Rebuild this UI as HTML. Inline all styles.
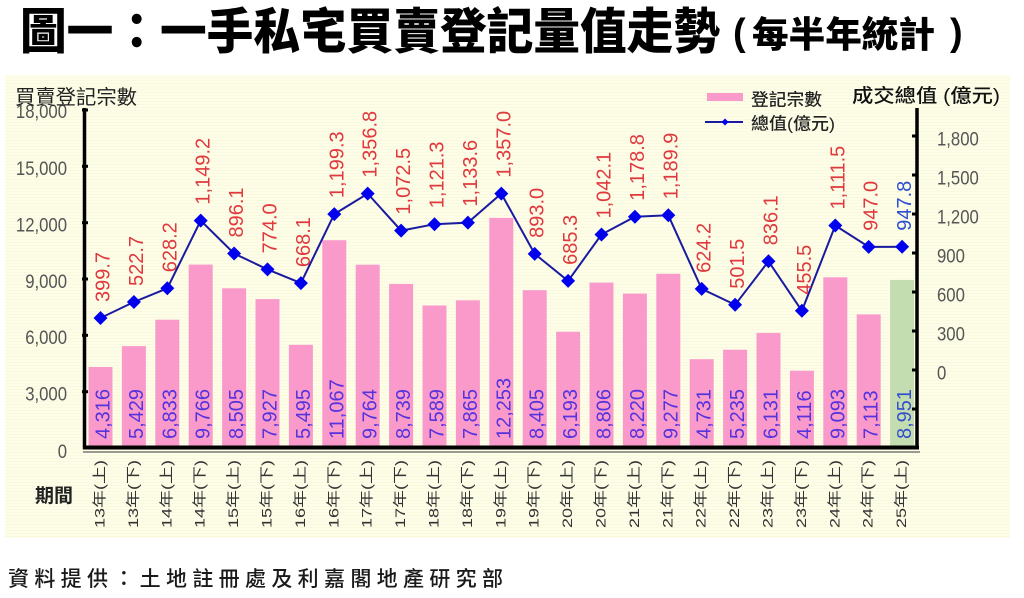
<!DOCTYPE html>
<html>
<head>
<meta charset="utf-8">
<style>
html,body{margin:0;padding:0;background:#fff;}
svg{display:block;}
.cjk{font-family:"Liberation Sans","Noto Sans CJK TC","Noto Sans CJK SC",sans-serif;}
.num{font-family:"Liberation Sans",sans-serif;}
</style>
</head>
<body>
<svg width="1024" height="598" viewBox="0 0 1024 598" xmlns="http://www.w3.org/2000/svg">
<defs>
<pattern id="stripe" width="4" height="3" patternUnits="userSpaceOnUse">
<rect width="4" height="3" fill="#fdfde8"/>
<rect y="2" width="4" height="1" fill="#f9f9e0"/>
</pattern>
</defs>
<rect width="1024" height="598" fill="#ffffff"/>

<!-- Title -->
<text class="cjk" x="20" y="48.5" font-size="49" font-weight="900" fill="#000" textLength="700" lengthAdjust="spacingAndGlyphs">圖一：一手私宅買賣登記量值走勢</text>
<text class="num" x="733" y="45" font-size="38" font-weight="bold" fill="#000">(</text>
<text class="cjk" x="752" y="47" font-size="36" font-weight="900" fill="#000" textLength="183" lengthAdjust="spacingAndGlyphs">每半年統計</text>
<text class="num" x="950" y="45" font-size="38" font-weight="bold" fill="#000">)</text>

<!-- Chart panel -->
<rect x="5" y="75" width="1005" height="463" fill="url(#stripe)"/>

<!-- Bars -->
<g fill="#fa9acb">
<rect x="88.5" y="367.0" width="24" height="79.0"/>
<rect x="121.9" y="346.1" width="24" height="99.9"/>
<rect x="155.3" y="319.7" width="24" height="126.3"/>
<rect x="188.7" y="264.6" width="24" height="181.4"/>
<rect x="222.1" y="288.3" width="24" height="157.7"/>
<rect x="255.5" y="299.1" width="24" height="146.9"/>
<rect x="288.9" y="344.8" width="24" height="101.2"/>
<rect x="322.3" y="240.2" width="24" height="205.8"/>
<rect x="355.7" y="264.7" width="24" height="181.3"/>
<rect x="389.1" y="283.9" width="24" height="162.1"/>
<rect x="422.5" y="305.5" width="24" height="140.5"/>
<rect x="455.9" y="300.3" width="24" height="145.7"/>
<rect x="489.3" y="217.9" width="24" height="228.1"/>
<rect x="522.7" y="290.2" width="24" height="155.8"/>
<rect x="556.1" y="331.7" width="24" height="114.3"/>
<rect x="589.5" y="282.6" width="24" height="163.4"/>
<rect x="622.9" y="293.6" width="24" height="152.4"/>
<rect x="656.3" y="273.8" width="24" height="172.2"/>
<rect x="689.7" y="359.2" width="24" height="86.8"/>
<rect x="723.1" y="349.7" width="24" height="96.3"/>
<rect x="756.5" y="332.9" width="24" height="113.1"/>
<rect x="789.9" y="370.7" width="24" height="75.3"/>
<rect x="823.3" y="277.3" width="24" height="168.7"/>
<rect x="856.7" y="314.4" width="24" height="131.6"/>
</g>
<rect x="890.1" y="279.9" width="24" height="166.1" fill="#c4ddb0"/>

<!-- Bar labels -->
<g class="num" font-size="20" fill="#5533dd">
<text transform="translate(109.5,439) rotate(-90)">4,316</text>
<text transform="translate(142.9,439) rotate(-90)">5,429</text>
<text transform="translate(176.3,439) rotate(-90)">6,833</text>
<text transform="translate(209.7,439) rotate(-90)">9,766</text>
<text transform="translate(243.1,439) rotate(-90)">8,505</text>
<text transform="translate(276.5,439) rotate(-90)">7,927</text>
<text transform="translate(309.9,439) rotate(-90)">5,495</text>
<text transform="translate(343.3,439) rotate(-90)">11,067</text>
<text transform="translate(376.7,439) rotate(-90)">9,764</text>
<text transform="translate(410.1,439) rotate(-90)">8,739</text>
<text transform="translate(443.5,439) rotate(-90)">7,589</text>
<text transform="translate(476.9,439) rotate(-90)">7,865</text>
<text transform="translate(510.3,439) rotate(-90)">12,253</text>
<text transform="translate(543.7,439) rotate(-90)">8,405</text>
<text transform="translate(577.1,439) rotate(-90)">6,193</text>
<text transform="translate(610.5,439) rotate(-90)">8,806</text>
<text transform="translate(643.9,439) rotate(-90)">8,220</text>
<text transform="translate(677.3,439) rotate(-90)">9,277</text>
<text transform="translate(710.7,439) rotate(-90)">4,731</text>
<text transform="translate(744.1,439) rotate(-90)">5,235</text>
<text transform="translate(777.5,439) rotate(-90)">6,131</text>
<text transform="translate(810.9,439) rotate(-90)">4,116</text>
<text transform="translate(844.3,439) rotate(-90)">9,093</text>
<text transform="translate(877.7,439) rotate(-90)">7,113</text>
<text transform="translate(911.1,439) rotate(-90)" fill="#3350cc">8,951</text>
</g>

<!-- Line -->
<polyline fill="none" stroke="#1a1aa0" stroke-width="2" points="100.5,318.0 133.9,302.0 167.3,288.3 200.7,220.6 234.1,253.5 267.5,269.4 300.9,283.1 334.3,214.1 367.7,193.6 401.1,230.6 434.5,224.2 467.9,222.6 501.3,193.6 534.7,253.9 568.1,280.9 601.5,234.5 634.9,216.8 668.3,215.3 701.7,288.9 735.1,304.8 768.5,261.3 801.9,310.8 835.3,225.5 868.7,246.9 902.1,246.8"/>
<path fill="#0000ee" d="M100.5,311.0l7,7-7,7-7,-7z M133.9,295.0l7,7-7,7-7,-7z M167.3,281.3l7,7-7,7-7,-7z M200.7,213.6l7,7-7,7-7,-7z M234.1,246.5l7,7-7,7-7,-7z M267.5,262.4l7,7-7,7-7,-7z M300.9,276.1l7,7-7,7-7,-7z M334.3,207.1l7,7-7,7-7,-7z M367.7,186.6l7,7-7,7-7,-7z M401.1,223.6l7,7-7,7-7,-7z M434.5,217.2l7,7-7,7-7,-7z M467.9,215.6l7,7-7,7-7,-7z M501.3,186.6l7,7-7,7-7,-7z M534.7,246.9l7,7-7,7-7,-7z M568.1,273.9l7,7-7,7-7,-7z M601.5,227.5l7,7-7,7-7,-7z M634.9,209.8l7,7-7,7-7,-7z M668.3,208.3l7,7-7,7-7,-7z M701.7,281.9l7,7-7,7-7,-7z M735.1,297.8l7,7-7,7-7,-7z M768.5,254.3l7,7-7,7-7,-7z M801.9,303.8l7,7-7,7-7,-7z M835.3,218.5l7,7-7,7-7,-7z M868.7,239.9l7,7-7,7-7,-7z M902.1,239.8l7,7-7,7-7,-7z"/>

<!-- Line labels -->
<g class="num" font-size="20" fill="#e0393e">
<text transform="translate(109.5,302.0) rotate(-90)">399.7</text>
<text transform="translate(142.9,286.0) rotate(-90)">522.7</text>
<text transform="translate(176.3,272.3) rotate(-90)">628.2</text>
<text transform="translate(209.7,204.6) rotate(-90)">1,149.2</text>
<text transform="translate(243.1,237.5) rotate(-90)">896.1</text>
<text transform="translate(276.5,253.4) rotate(-90)">774.0</text>
<text transform="translate(309.9,267.1) rotate(-90)">668.1</text>
<text transform="translate(343.3,198.1) rotate(-90)">1,199.3</text>
<text transform="translate(376.7,177.6) rotate(-90)">1,356.8</text>
<text transform="translate(410.1,214.6) rotate(-90)">1,072.5</text>
<text transform="translate(443.5,208.2) rotate(-90)">1,121.3</text>
<text transform="translate(476.9,206.6) rotate(-90)">1,133.6</text>
<text transform="translate(510.3,177.6) rotate(-90)">1,357.0</text>
<text transform="translate(543.7,237.9) rotate(-90)">893.0</text>
<text transform="translate(577.1,264.9) rotate(-90)">685.3</text>
<text transform="translate(610.5,218.5) rotate(-90)">1,042.1</text>
<text transform="translate(643.9,200.8) rotate(-90)">1,178.8</text>
<text transform="translate(677.3,199.3) rotate(-90)">1,189.9</text>
<text transform="translate(710.7,272.9) rotate(-90)">624.2</text>
<text transform="translate(744.1,288.8) rotate(-90)">501.5</text>
<text transform="translate(777.5,245.3) rotate(-90)">836.1</text>
<text transform="translate(810.9,294.8) rotate(-90)">455.5</text>
<text transform="translate(844.3,209.5) rotate(-90)">1,111.5</text>
<text transform="translate(877.7,230.9) rotate(-90)">947.0</text>
<text transform="translate(911.1,230.8) rotate(-90)" fill="#2d4fd0">947.8</text>
</g>

<!-- Axes -->
<line x1="84.5" y1="108" x2="84.5" y2="449" stroke="#000" stroke-width="3.5"/>
<line x1="917" y1="108" x2="917" y2="449" stroke="#000" stroke-width="3.5"/>
<line x1="83" y1="452" x2="920" y2="452" stroke="#9a9a90" stroke-width="2"/>
<line x1="83" y1="447.5" x2="919" y2="447.5" stroke="#000" stroke-width="4"/>
<g stroke="#000" stroke-width="3">
<line x1="82" y1="110" x2="88" y2="110"/>
<line x1="82" y1="166.3" x2="88" y2="166.3"/>
<line x1="82" y1="222.7" x2="88" y2="222.7"/>
<line x1="82" y1="279" x2="88" y2="279"/>
<line x1="82" y1="335.3" x2="88" y2="335.3"/>
<line x1="82" y1="391.7" x2="88" y2="391.7"/>
<line x1="912" y1="136" x2="918" y2="136"/>
<line x1="912" y1="175" x2="918" y2="175"/>
<line x1="912" y1="214" x2="918" y2="214"/>
<line x1="912" y1="253" x2="918" y2="253"/>
<line x1="912" y1="292" x2="918" y2="292"/>
<line x1="912" y1="331" x2="918" y2="331"/>
<line x1="912" y1="370" x2="918" y2="370"/>
<line x1="912" y1="409" x2="918" y2="409"/>
</g>

<!-- Left tick labels -->
<g class="num" font-size="19" fill="#555" text-anchor="end">
<text transform="translate(67,118) scale(0.88,1)">18,000</text>
<text transform="translate(67,175) scale(0.88,1)">15,000</text>
<text transform="translate(67,231.5) scale(0.88,1)">12,000</text>
<text transform="translate(67,288) scale(0.88,1)">9,000</text>
<text transform="translate(67,344) scale(0.88,1)">6,000</text>
<text transform="translate(67,400.5) scale(0.88,1)">3,000</text>
<text transform="translate(67,458) scale(0.88,1)">0</text>
</g>
<!-- Right tick labels -->
<g class="num" font-size="19" fill="#555">
<text transform="translate(937,145.5) scale(0.88,1)">1,800</text>
<text transform="translate(937,184.5) scale(0.88,1)">1,500</text>
<text transform="translate(937,223.5) scale(0.88,1)">1,200</text>
<text transform="translate(937,262.5) scale(0.88,1)">900</text>
<text transform="translate(937,301.5) scale(0.88,1)">600</text>
<text transform="translate(937,340.5) scale(0.88,1)">300</text>
<text transform="translate(937,379.5) scale(0.88,1)">0</text>
</g>

<!-- Axis titles -->
<text class="cjk" x="15" y="104" font-size="20" fill="#222" textLength="122" lengthAdjust="spacingAndGlyphs">買賣登記宗數</text>
<text class="cjk" x="852" y="102" font-size="19" fill="#111" font-weight="500" textLength="148" lengthAdjust="spacingAndGlyphs">成交總值 (億元)</text>

<!-- Legend -->
<rect x="707" y="93" width="36" height="8" fill="#fa9acb"/>
<text class="cjk" x="751" y="105.5" font-size="17" fill="#222" font-weight="500" textLength="71" lengthAdjust="spacingAndGlyphs">登記宗數</text>
<line x1="705" y1="122" x2="743" y2="122" stroke="#1a1aa0" stroke-width="2"/>
<path d="M725,118.5l3.5,3.5-3.5,3.5-3.5,-3.5z" fill="#0000ee"/>
<text class="cjk" x="751" y="129.5" font-size="17" fill="#222" font-weight="500" textLength="84" lengthAdjust="spacingAndGlyphs">總值(億元)</text>

<!-- X labels -->
<text class="cjk" x="35" y="502" font-size="19" font-weight="bold" fill="#222" textLength="38" lengthAdjust="spacingAndGlyphs">期間</text>
<g class="cjk" font-size="14" fill="#333">
<text transform="translate(104.5,528) rotate(-90)" textLength="68" lengthAdjust="spacingAndGlyphs">13年(上)</text>
<text transform="translate(137.9,528) rotate(-90)" textLength="68" lengthAdjust="spacingAndGlyphs">13年(下)</text>
<text transform="translate(171.3,528) rotate(-90)" textLength="68" lengthAdjust="spacingAndGlyphs">14年(上)</text>
<text transform="translate(204.7,528) rotate(-90)" textLength="68" lengthAdjust="spacingAndGlyphs">14年(下)</text>
<text transform="translate(238.1,528) rotate(-90)" textLength="68" lengthAdjust="spacingAndGlyphs">15年(上)</text>
<text transform="translate(271.5,528) rotate(-90)" textLength="68" lengthAdjust="spacingAndGlyphs">15年(下)</text>
<text transform="translate(304.9,528) rotate(-90)" textLength="68" lengthAdjust="spacingAndGlyphs">16年(上)</text>
<text transform="translate(338.3,528) rotate(-90)" textLength="68" lengthAdjust="spacingAndGlyphs">16年(下)</text>
<text transform="translate(371.7,528) rotate(-90)" textLength="68" lengthAdjust="spacingAndGlyphs">17年(上)</text>
<text transform="translate(405.1,528) rotate(-90)" textLength="68" lengthAdjust="spacingAndGlyphs">17年(下)</text>
<text transform="translate(438.5,528) rotate(-90)" textLength="68" lengthAdjust="spacingAndGlyphs">18年(上)</text>
<text transform="translate(471.9,528) rotate(-90)" textLength="68" lengthAdjust="spacingAndGlyphs">18年(下)</text>
<text transform="translate(505.3,528) rotate(-90)" textLength="68" lengthAdjust="spacingAndGlyphs">19年(上)</text>
<text transform="translate(538.7,528) rotate(-90)" textLength="68" lengthAdjust="spacingAndGlyphs">19年(下)</text>
<text transform="translate(572.1,528) rotate(-90)" textLength="68" lengthAdjust="spacingAndGlyphs">20年(上)</text>
<text transform="translate(605.5,528) rotate(-90)" textLength="68" lengthAdjust="spacingAndGlyphs">20年(下)</text>
<text transform="translate(638.9,528) rotate(-90)" textLength="68" lengthAdjust="spacingAndGlyphs">21年(上)</text>
<text transform="translate(672.3,528) rotate(-90)" textLength="68" lengthAdjust="spacingAndGlyphs">21年(下)</text>
<text transform="translate(705.7,528) rotate(-90)" textLength="68" lengthAdjust="spacingAndGlyphs">22年(上)</text>
<text transform="translate(739.1,528) rotate(-90)" textLength="68" lengthAdjust="spacingAndGlyphs">22年(下)</text>
<text transform="translate(772.5,528) rotate(-90)" textLength="68" lengthAdjust="spacingAndGlyphs">23年(上)</text>
<text transform="translate(805.9,528) rotate(-90)" textLength="68" lengthAdjust="spacingAndGlyphs">23年(下)</text>
<text transform="translate(839.3,528) rotate(-90)" textLength="68" lengthAdjust="spacingAndGlyphs">24年(上)</text>
<text transform="translate(872.7,528) rotate(-90)" textLength="68" lengthAdjust="spacingAndGlyphs">24年(下)</text>
<text transform="translate(906.1,528) rotate(-90)" textLength="68" lengthAdjust="spacingAndGlyphs">25年(上)</text>
</g>

<!-- Footer -->
<text class="cjk" x="8" y="586" font-size="21" font-weight="500" fill="#1a1a1a" textLength="495" lengthAdjust="spacing">資料提供：土地註冊處及利嘉閣地產研究部</text>
</svg>
</body>
</html>
